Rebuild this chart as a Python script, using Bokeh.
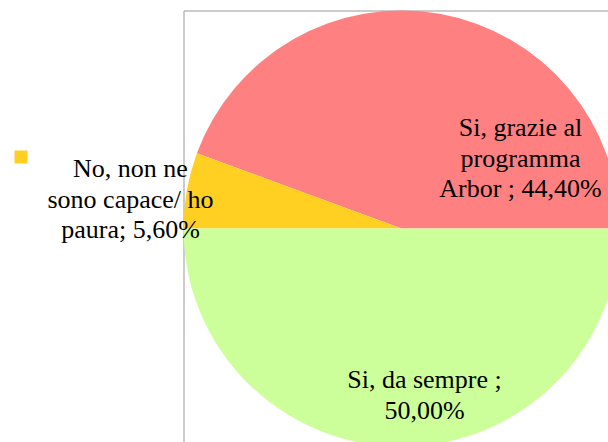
import math
from bokeh.plotting import figure
from bokeh.models import Range1d, ColumnDataSource
from bokeh.core.properties import value
from bokeh.embed import file_html
from bokeh.resources import INLINE

# ---- data ----
categories = ["Si, grazie al programma Arbor", "No, non ne sono capace/ ho paura", "Si, da sempre"]
values = [44.4, 5.6, 50.0]
colors = ["#FF8080", "#FFD022", "#CCFF99"]
label_lines = [
    ["Si, grazie al", "programma", "Arbor ; 44,40%"],
    ["No, non ne", "sono capace/ ho", "paura; 5,60%"],
    ["Si, da sempre ;", "50,00%"],
]

# ---- layout (pixel coordinates of the picture) ----
W, H = 608, 442
SCREEN_H = 442

def sy(y):  # picture y -> data y
    return SCREEN_H - y

cx, cy, r = 401, 228, 218
label_pos = [(520, 127), (130, 168), (424, 379)]  # first-line baseline centres
line_h = 30.5

p = figure(width=W, height=H, output_backend="svg", toolbar_location=None,
           x_range=Range1d(0, W), y_range=Range1d(SCREEN_H - H, SCREEN_H),
           min_border=0, outline_line_color=None)
p.axis.visible = False
p.grid.visible = False
p.background_fill_color = "white"
p.border_fill_color = "white"

# frame
p.segment(x0=[183.5, 183.5], y0=[sy(10.5), sy(10.5)], x1=[183.5, 700], y1=[sy(700), sy(10.5)],
          line_color="#BBBBBB", line_width=1.5)

# pie
total = sum(values)
starts, ends = [], []
acc = 0.0
for v in values:
    starts.append(2 * math.pi * acc / total)
    acc += v
    ends.append(2 * math.pi * acc / total)
src = ColumnDataSource(dict(start=starts, end=ends, color=colors, cat=categories))
p.wedge(x=cx, y=sy(cy), radius=r, start_angle="start", end_angle="end",
        fill_color="color", line_color=None, source=src)

# labels
xs, ys, txt = [], [], []
for (lx, ly), lines in zip(label_pos, label_lines):
    for i, t in enumerate(lines):
        xs.append(lx)
        ys.append(sy(ly + i * line_h))
        txt.append(t)
p.text(x=xs, y=ys, text=txt, text_align="center", text_baseline="alphabetic",
       text_font=value("'Liberation Serif', 'Times New Roman', serif"),
       text_font_size="26px", text_color="#000000")

# legend marker for small slice
p.scatter(x=[20.5], y=[sy(156.5)], marker="square", size=13,
          fill_color=colors[1], line_color=None)

open("out.html", "w").write(file_html(p, INLINE))
